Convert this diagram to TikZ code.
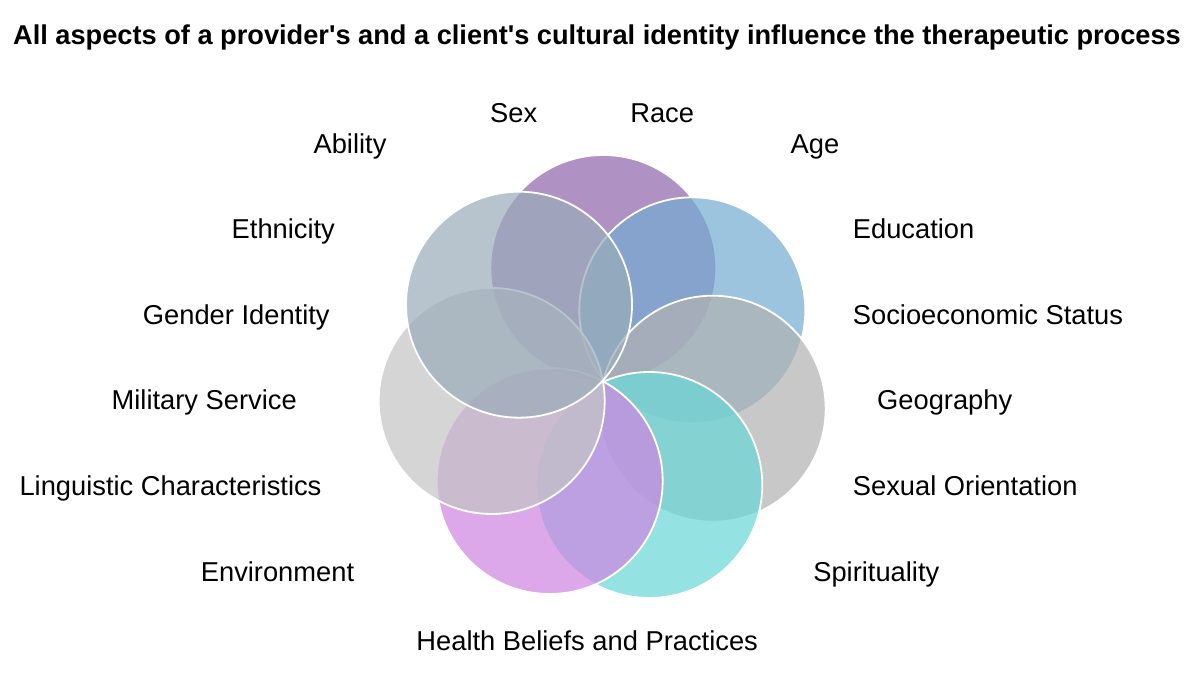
\documentclass[tikz,border=0pt]{standalone}
\usepackage{fontspec}
\setmainfont{Liberation Sans}[Ligatures=TeXOff]
\definecolor{cpurple}{RGB}{142,99,171}
\definecolor{cblue}{RGB}{116,171,208}
\definecolor{cgrayr}{RGB}{178,178,178}
\definecolor{cteal}{RGB}{104,215,215}
\definecolor{cpink}{RGB}{206,132,226}
\definecolor{cgrayl}{RGB}{196,196,196}
\definecolor{cslate}{RGB}{154,172,185}
\begin{document}
\begin{tikzpicture}[x=1pt,y=-1pt,
  venn/.style={circle, draw=white, line width=1.8pt, fill opacity=0.7, minimum size=226pt, inner sep=0pt},
  lbl/.style={font=\fontsize{27.3}{30}\selectfont, anchor=base, inner sep=0pt, text=black},
  ttl/.style={font=\fontsize{27.2}{30}\selectfont\bfseries, anchor=base, inner sep=0pt, text=black}]
\useasboundingbox (0,0) rectangle (1200,684);
\fill[white] (0,0) rectangle (1200,684);
% circles
\node[venn, fill=cpurple] (c1) at (603.3,268) {};
\node[venn, fill=cblue]   (c2) at (692.3,310.3) {};
\node[venn, fill=cgrayr]  (c3) at (712.7,408.7) {};
\node[venn, fill=cteal]   (c4) at (649.3,485) {};
\node[venn, fill=cpink]   (c5) at (549.7,481) {};
\node[venn, fill=cgrayl]  (c6) at (491.7,401) {};
\node[venn, fill=cslate]  (c7) at (519,304.7) {};
% title
\node[ttl] (title) at (597,44.3) {All aspects of a provider's and a client's cultural identity influence the therapeutic process};
% labels
\node[lbl] (sex) at (513.7,122.5) {Sex};
\node[lbl] (race) at (662.2,122.5) {Race};
\node[lbl] (ability) at (350,153.5) {Ability};
\node[lbl] (age) at (815,153.5) {Age};
\node[lbl] (ethnicity) at (283.3,239) {Ethnicity};
\node[lbl, anchor=base west] (education) at (852.7,239) {Education};
\node[lbl] (gender) at (236.3,324.3) {Gender Identity};
\node[lbl, anchor=base west] (socio) at (852.7,324.3) {Socioeconomic Status};
\node[lbl] (military) at (204.2,410) {Military Service};
\node[lbl] (geography) at (944.7,410) {Geography};
\node[lbl] (linguistic) at (170.5,495.5) {Linguistic Characteristics};
\node[lbl, anchor=base west] (sexual) at (852.7,495.5) {Sexual Orientation};
\node[lbl] (environment) at (277.5,581) {Environment};
\node[lbl] (spirituality) at (876.3,581) {Spirituality};
\node[lbl] (health) at (587.2,650) {Health Beliefs and Practices};
\end{tikzpicture}
\end{document}
